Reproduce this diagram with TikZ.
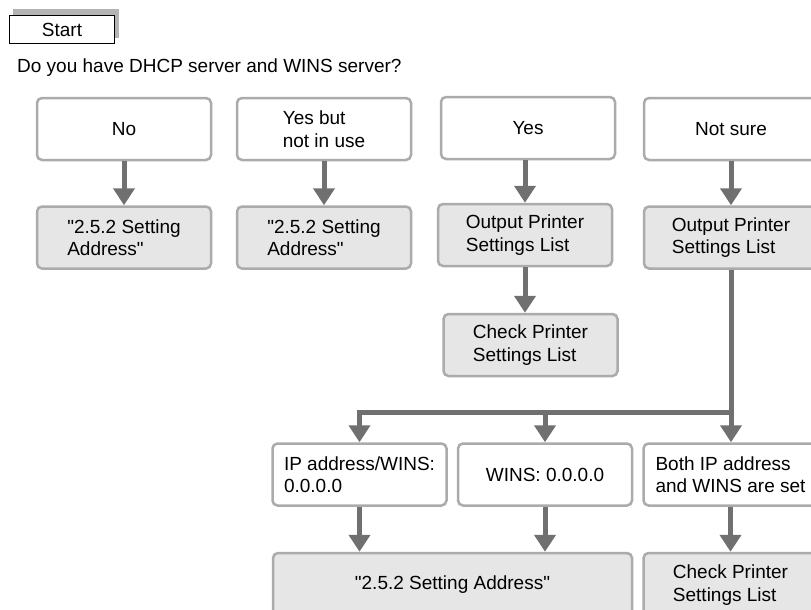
\documentclass[tikz,border=0pt]{standalone}
\usepackage{fontspec}
\setmainfont{Liberation Sans}[Ligatures=TeXOff]
\usetikzlibrary{arrows.meta}
\definecolor{boxline}{HTML}{ABABAB}
\definecolor{boxfill}{HTML}{E6E6E6}
\definecolor{arrowgray}{HTML}{707070}
\definecolor{shadowgray}{HTML}{B4B4B4}
\begin{document}
\begin{tikzpicture}[x=1pt,y=-1pt,
  every node/.style={font=\fontsize{19}{22.5}\selectfont},
  qbox/.style={draw=boxline, line width=2.5pt, rounded corners=5pt, fill=white,
    minimum width=174pt, minimum height=62pt, inner sep=0pt, align=left},
  abox/.style={qbox, fill=boxfill},
  flow/.style={draw=arrowgray, line width=5pt},
  arr/.style={flow, -{Triangle[width=21pt,length=17pt]}}]
\useasboundingbox (0,0) rectangle (811,610);
\clip (0,0) rectangle (811,610);
% start
\fill[shadowgray] (13,9) rectangle (119,38);
\node[draw=black, line width=1.2pt, fill=white, minimum width=105pt, minimum height=28pt, inner sep=0pt] (start) at (62,29.5) {Start};
\node[anchor=base west, inner sep=0pt] (q) at (17,72) {Do you have DHCP server and WINS server?};
% top row
\node[qbox] (no) at (124,129) {No};
\node[qbox] (ybn) at (324,129) {Yes but\\not in use};
\node[qbox] (yes) at (528,128) {Yes};
\node[qbox] (ns) at (731,129) {Not sure};
% second row
\node[abox] (no2) at (124,237.5) {"2.5.2 Setting\\Address"};
\node[abox] (ybn2) at (324,237.5) {"2.5.2 Setting\\Address"};
\node[abox] (out3) at (525,235) {Output Printer\\Settings List};
\node[abox] (out4) at (731,237.5) {Output Printer\\Settings List};
\node[abox] (chk3) at (530.5,345) {Check Printer\\Settings List};
% third row
\node[qbox] (ip) at (359.5,474.5) {IP address/WINS:\\0.0.0.0};
\node[qbox] (wins) at (545,474.5) {WINS: 0.0.0.0};
\node[qbox] (both) at (730.5,474.5) {Both IP address\\and WINS are set};
% fourth row
\node[abox, minimum width=359pt, minimum height=64pt] (addr) at (452.5,585) {"2.5.2 Setting Address"};
\node[abox, minimum height=64pt] (chk4) at (730.5,585) {Check Printer\\Settings List};
% connectors
\draw[arr] (no.south) -- (no2.north);
\draw[arr] (ybn.south) -- (ybn2.north);
\draw[arr] (yes.south -| out3.north) -- (out3.north);
\draw[arr] (out3.south) -- (out3.south |- chk3.north);
\draw[arr] (ns.south) -- (out4.north);
\coordinate (split) at (out4.south |- 0,412);
\draw[arr] (out4.south) -- (out4.south |- both.north);
\draw[arr] (split) -| (ip.north);
\draw[arr] (wins.north |- split) -- (wins.north);
\draw[arr] (ip.south) -- (ip.south |- addr.north);
\draw[arr] (wins.south) -- (wins.south |- addr.north);
\draw[arr] (both.south) -- (both.south |- chk4.north);
\end{tikzpicture}
\end{document}
